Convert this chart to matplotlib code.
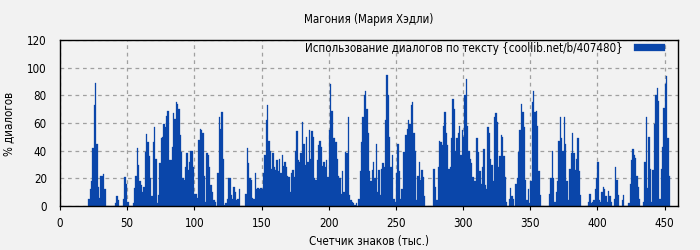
import matplotlib.pyplot as plt
import numpy as np

title = "Магония (Мария Хэдли)"
x_label = "Счетчик знаков (тыс.)"
y_label = "% диалогов"
legend_label = "Использование диалогов по тексту {coollib.net/b/407480}"

# первый столбец - 21 тыс. знаков, шаг 1 тыс.
first_k = 21

# % диалогов, 21..99 тыс. знаков
pct_021_099 = [5, 12, 18, 42, 73, 89, 45, 14, 6, 22,
               22, 23, 12, 0, 0, 0, 0, 0, 0, 0,
               2, 7, 4, 0, 0, 0, 5, 21, 16, 3,
               0, 0, 0, 2, 13, 22, 42, 30, 18, 15,
               10, 14, 39, 52, 46, 36, 20, 7, 46, 57,
               34, 2, 8, 31, 49, 50, 59, 57, 65, 69,
               33, 33, 43, 67, 63, 75, 74, 70, 51, 39,
               20, 19, 28, 38, 26, 32, 40, 40, 28]

# 100..199
pct_100_199 = [9, 9, 6, 48, 56, 55, 53, 22, 3, 38,
               37, 28, 15, 10, 4, 3, 0, 24, 64, 56,
               68, 34, 1, 2, 5, 20, 20, 8, 5, 14,
               10, 4, 5, 12, 0, 0, 0, 0, 9, 42,
               31, 20, 19, 6, 5, 24, 12, 13, 12, 13,
               12, 24, 37, 62, 73, 47, 40, 27, 38, 28,
               26, 33, 25, 34, 24, 37, 29, 32, 28, 22,
               21, 10, 24, 26, 21, 40, 54, 33, 32, 38,
               61, 45, 30, 50, 32, 55, 34, 54, 50, 20,
               19, 33, 44, 47, 43, 29, 32, 28, 33, 21]

# 200..299
pct_200_299 = [55, 88, 69, 49, 49, 46, 34, 22, 20, 9,
               25, 10, 39, 38, 64, 8, 4, 3, 2, 1,
               2, 0, 5, 25, 46, 64, 80, 83, 70, 53,
               25, 18, 26, 32, 20, 45, 10, 26, 8, 27,
               31, 28, 62, 95, 80, 50, 28, 37, 5, 3,
               24, 45, 25, 5, 12, 39, 39, 51, 56, 62,
               59, 73, 75, 53, 40, 4, 22, 32, 19, 26,
               21, 7, 0, 0, 0, 0, 0, 0, 27, 14,
               4, 28, 47, 46, 44, 58, 68, 53, 44, 27,
               28, 49, 77, 70, 40, 49, 53, 58, 37, 55]

# 300..399
pct_300_399 = [50, 80, 92, 58, 40, 34, 31, 21, 18, 18,
               49, 39, 25, 16, 28, 41, 15, 12, 57, 53,
               34, 30, 18, 64, 67, 61, 28, 36, 51, 50,
               36, 21, 3, 0, 5, 13, 7, 5, 0, 16,
               20, 39, 55, 74, 68, 57, 19, 4, 12, 2,
               18, 75, 83, 68, 69, 58, 25, 8, 0, 0,
               0, 0, 0, 0, 9, 20, 40, 20, 3, 10,
               18, 47, 64, 49, 40, 64, 45, 18, 4, 27,
               38, 53, 38, 26, 34, 49, 25, 8, 0, 0,
               0, 0, 0, 3, 9, 2, 3, 4, 12, 20]

# 400..453
pct_400_453 = [32, 4, 3, 10, 14, 12, 7, 3, 11, 7,
               3, 0, 5, 28, 19, 8, 0, 0, 4, 8,
               0, 0, 0, 2, 16, 33, 41, 37, 35, 22,
               14, 5, 0, 0, 3, 32, 64, 13, 50, 27,
               3, 26, 59, 80, 85, 76, 5, 27, 43, 71,
               88, 94, 49, 22]

x_ticks = [0, 50, 100, 150, 200, 250, 300, 350, 400, 450]
y_ticks = [0, 20, 40, 60, 80, 100, 120]

values = pct_021_099 + pct_100_199 + pct_200_299 + pct_300_399 + pct_400_453
xs = np.arange(first_k, first_k + len(values))

bg = '#f2f2f2'
bar_color = '#0a46aa'
fs = 8.3

plt.rcParams['font.family'] = ['DejaVu Sans']
plt.rcParams['font.stretch'] = 'condensed'

fig = plt.figure(figsize=(7, 2.5), dpi=100, facecolor=bg)
ax = fig.add_axes([60 / 700, 44 / 250, 618 / 700, 166 / 250], facecolor=bg)

ax.bar(xs, values, width=1.0, align='edge', color=bar_color,
       edgecolor=bar_color, linewidth=0.2, label=legend_label)

ax.set_xlim(0, 460)
ax.set_ylim(0, 120)
ax.set_xticks(x_ticks)
ax.set_yticks(y_ticks)
ax.tick_params(labelsize=fs, colors='black')
ax.tick_params(axis='x', length=3, width=0.8, pad=5)
ax.tick_params(axis='y', length=0, pad=9.5)
ax.set_axisbelow(True)
ax.grid(True, color='#a0a0a0', linestyle=(0, (3, 3)), linewidth=0.9)
for s in ax.spines.values():
    s.set_linewidth(1.0)
    s.set_color('black')

# заголовок по центру области графика
fig.text(369 / 700, 1 - 19.3 / 250, title, fontsize=fs,
         ha='center', va='center')
ax.set_xlabel(x_label, fontsize=fs, va='center')
ax.xaxis.set_label_coords(0.5, -0.211)
ax.set_ylabel(y_label, fontsize=fs, va='center')
ax.yaxis.set_label_coords(-0.0837, 0.494)

ax.legend(loc='upper right', bbox_to_anchor=(0.979, 0.99), frameon=False,
          markerfirst=False, fontsize=fs, borderpad=0, borderaxespad=0,
          handlelength=2.7, handleheight=0.5, handletextpad=0.95)

fig.savefig('out.png', dpi=100, facecolor=bg)
